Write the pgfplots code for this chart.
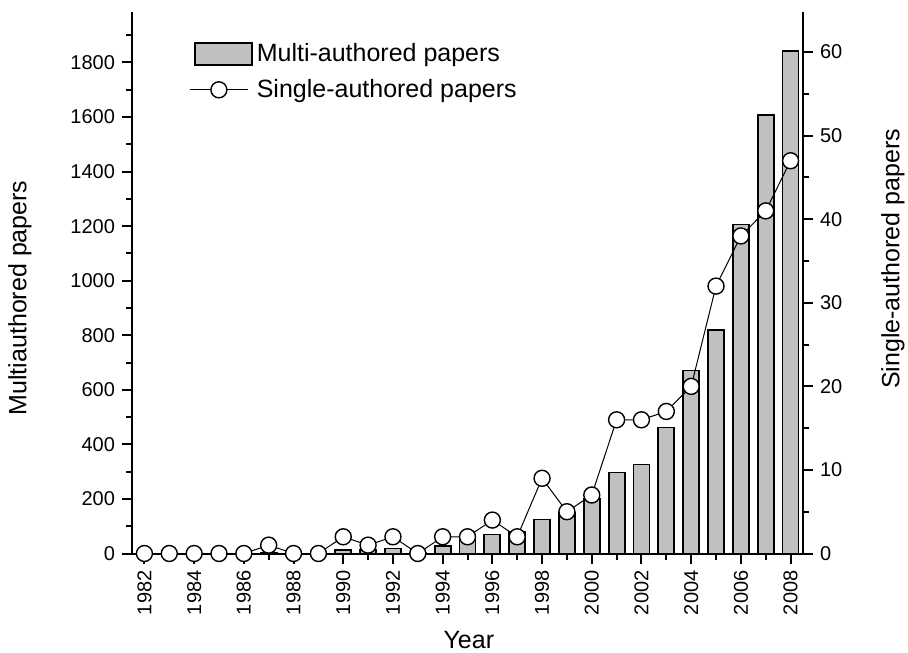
\documentclass[border=0pt]{standalone}
\usepackage{fontspec}
\setmainfont{Liberation Sans}
\usepackage{pgfplots}
\pgfplotsset{compat=1.18}
\usepackage{pgfplotstable}

\definecolor{barfill}{RGB}{192,192,192}

% Year, multi-authored papers, single-authored papers
\pgfplotstableread{
year multi single
1982 0    0
1983 0    0
1984 0    0
1985 0    0
1986 0    0
1987 2    1
1988 0    0
1989 0    0
1990 12   2
1991 12   1
1992 18   2
1993 2    0
1994 27   2
1995 55   2
1996 70   4
1997 80   2
1998 125  9
1999 150  5
2000 200  7
2001 297  16
2002 326  16
2003 462  17
2004 671  20
2005 820  32
2006 1206 38
2007 1607 41
2008 1843 47
}\papers

\newcommand{\labelfont}{\fontsize{12.5}{14}\selectfont}

\pgfplotsset{
  commonaxis/.style={
    scale only axis,
    width=335.5pt, height=270.75pt,
    at={(0,0)}, anchor=south west,
    xmin=1981.5, xmax=2008.5,
    axis line style={line width=1pt},
    every tick/.style={black, line width=1pt},
    tick align=outside,
    major tick length=5pt,
    minor tick length=3pt,
    tick label style={font=\fontsize{10}{12}\selectfont},
    /pgf/number format/assume math mode=true,
  },
}

\begin{document}
\begin{tikzpicture}
% multi-authored papers: bars on the left axis
\begin{axis}[
  commonaxis,
  axis x line*=bottom,
  axis y line*=left,
  ymin=0, ymax=1985,
  ytick={0,200,...,1800},
  minor ytick={100,300,...,1900},
  xtick={1982,1984,...,2008},
  minor xtick={1983,1985,...,2007},
  xticklabel style={rotate=90, anchor=east},
  /pgf/number format/1000 sep={},
  xlabel={Year},
  ylabel={Multiauthored papers},
  every axis x label/.style={at={(axis description cs:0.502,-0.16)}, anchor=center, font=\labelfont},
  every axis y label/.style={at={(axis description cs:-0.167,0.472)}, rotate=90, anchor=center, font=\labelfont},
]
\addplot[ybar, bar width=8pt, fill=barfill, draw=black, line width=0.9pt]
  table[x=year, y=multi] {\papers};
\end{axis}

% single-authored papers: line with open circles on the right axis
\begin{axis}[
  commonaxis,
  axis x line=none,
  axis y line*=right,
  ymin=0, ymax=64.8,
  ytick={0,10,...,60},
  minor ytick={5,15,...,55},
  ylabel={Single-authored papers},
  every axis y label/.style={at={(axis description cs:1.134,0.544)}, rotate=90, anchor=center, font=\labelfont},
  legend style={draw=none, fill=none, at={(axis description cs:0.076,0.958)}, anchor=north west,
    font=\labelfont, row sep=3.5pt,
    legend cell align=left},
]
\addlegendimage{legend image code/.code={
    \draw[fill=barfill, draw=black, line width=0.9pt] (2.5pt,-5.5pt) rectangle (31pt,5.5pt);}}
\addlegendentry{Multi-authored papers}
\addplot[black, line width=0.5pt, mark=*, mark size=4pt,
  mark options={fill=white, draw=black, line width=0.7pt},
  legend image code/.code={
    \draw[black, line width=0.5pt] (0pt,0pt) -- (29pt,0pt);
    \draw[fill=white, draw=black, line width=0.7pt] (14.5pt,0pt) circle (4pt);}]
  table[x=year, y=single] {\papers};
\addlegendentry{Single-authored papers}
\end{axis}

\pgfresetboundingbox
\path (-66pt,-49.25pt) rectangle (388pt,276.75pt);
\end{tikzpicture}
\end{document}
